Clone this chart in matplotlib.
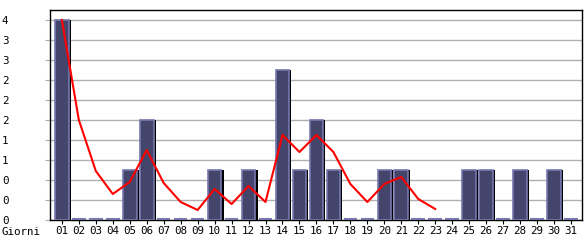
import matplotlib.pyplot as plt
import matplotlib.transforms as mtransforms
import numpy as np

days = ['%02d' % d for d in range(1, 32)]
visits = [4, 0, 0, 0, 1, 2, 0, 0, 0, 1, 0, 1, 0, 3, 1, 2, 1, 0, 0, 1, 1, 0, 0, 0, 1, 1, 0, 1, 0, 1, 0]
trend = [4.0, 2.0, 0.98, 0.52, 0.76, 1.4, 0.74, 0.36, 0.2, 0.62, 0.32, 0.68, 0.36, 1.7,
         1.36, 1.7, 1.36, 0.72, 0.36, 0.72, 0.86, 0.42, 0.22]
yticks = [0, 0.4, 0.8, 1.2, 1.6, 2.0, 2.4, 2.8, 3.2, 3.6, 4.0]

plt.rcParams['font.family'] = 'DejaVu Sans Mono'
plt.rcParams['font.size'] = 7.8

fig = plt.figure(figsize=(5.85, 2.4), dpi=100)
ax = fig.add_axes([50 / 585, 20 / 240, 532 / 585, 210 / 240])

x = np.arange(1, 32)
v = np.array(visits)
w = 0.8
ax.bar(x + 0.13, v, width=w, color='black', linewidth=0, zorder=3)
ax.bar(x, v, width=w, color='#43456a', edgecolor='#7878b0', linewidth=1.2, zorder=3)

# flat bars for days with no visits
zero = x[v == 0]
up = mtransforms.offset_copy(ax.transData, fig=fig, x=0, y=1.2, units='dots')
ax.hlines(np.zeros(len(zero)), zero - w / 2, zero + w / 2, color='#7878b0',
          linewidth=1.5, transform=up, zorder=3)

ax.plot(np.arange(1, len(trend) + 1), trend, color='#ff0000', linewidth=1.5, zorder=4)

ax.set_xlim(0.3, 31.65)
ax.set_ylim(0, 4.2)
ax.set_xticks(x)
ax.set_xticklabels(days)
ax.set_yticks(yticks)
ax.set_yticklabels([str(int(t + 1e-9)) for t in yticks], ha='left')
ax.yaxis.grid(True, color='#b0b0b0', linewidth=1)
ax.set_axisbelow(True)
ax.tick_params(axis='y', length=3.6, color='#b0b0b0', pad=31)
ax.tick_params(axis='x', length=3, color='black', pad=1.5)
for s in ax.spines.values():
    s.set_color('black')
    s.set_linewidth(1)

fig.text(2 / 585, 1 - 232 / 240, 'Giorni', va='center', ha='left')

plt.savefig('out.png', dpi=100)
